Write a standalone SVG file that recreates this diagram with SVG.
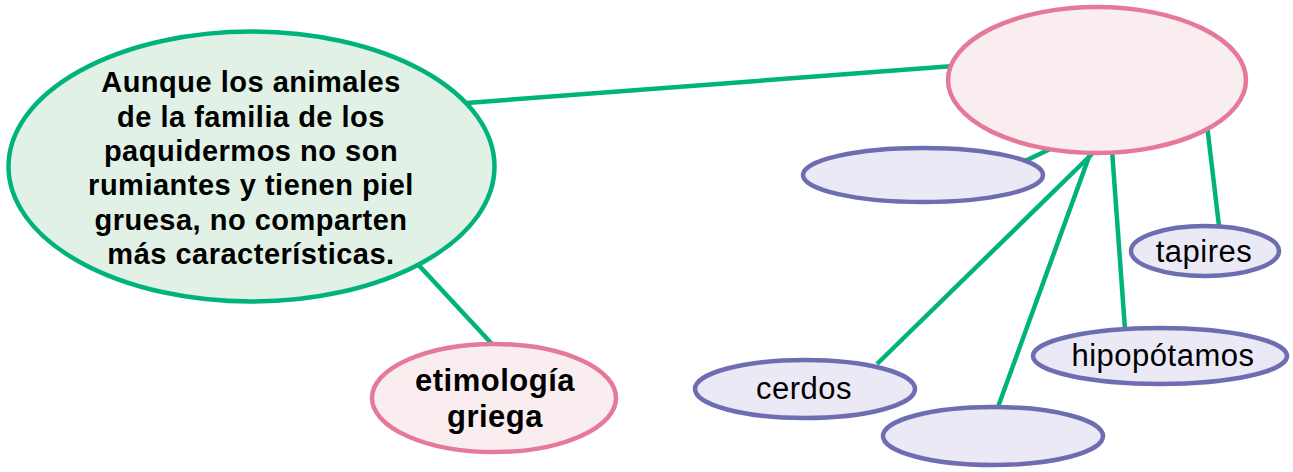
<svg xmlns="http://www.w3.org/2000/svg" width="1293" height="472" viewBox="0 0 1293 472">
<style>
.conn{stroke:#00b27b;stroke-width:4.5;fill:none;stroke-linecap:butt}
.green{fill:#e1f1e6;stroke:#00b27b;stroke-width:4.5}
.pink{fill:#f9edf0;stroke:#e5799a;stroke-width:4.5}
.purple{fill:#ebe9f5;stroke:#6f6db1;stroke-width:4.5}
.bold{font-family:"Liberation Sans",Arial,sans-serif;font-weight:bold;font-size:29px;letter-spacing:0.5px;fill:#000;text-anchor:middle}
.big{font-size:31px}
.reg{font-family:"Liberation Sans",Arial,sans-serif;font-size:31px;letter-spacing:0.5px;fill:#000;text-anchor:middle}
</style>
<rect width="1293" height="472" fill="#fff"/>
<g id="connectors">
<line class="conn" x1="440" y1="105" x2="980" y2="64"/>
<line class="conn" x1="400" y1="245" x2="492" y2="344"/>
<line class="conn" x1="1065" y1="142" x2="1006" y2="170"/>
<line class="conn" x1="1092" y1="154" x2="877" y2="364"/>
<line class="conn" x1="1090" y1="154" x2="998" y2="407"/>
<line class="conn" x1="1112" y1="150" x2="1125" y2="329"/>
<line class="conn" x1="1207" y1="125" x2="1219" y2="226"/>
</g>
<g id="n-green">
<ellipse class="green" cx="251.5" cy="166.5" rx="243" ry="135"/>
<text class="bold"><tspan x="251" y="92">Aunque los animales</tspan><tspan x="251" y="127">de la familia de los</tspan><tspan x="251" y="161">paquidermos no son</tspan><tspan x="251" y="195">rumiantes y tienen piel</tspan><tspan x="251" y="230">gruesa, no comparten</tspan><tspan x="251" y="264">más características.</tspan></text>
</g>
<g id="n-top">
<ellipse class="pink" cx="1097" cy="80" rx="149" ry="73"/>
</g>
<g id="n-etimologia">
<ellipse class="pink" cx="494" cy="398" rx="122" ry="54"/>
<text class="bold big"><tspan x="495" y="391">etimología</tspan><tspan x="495" y="427">griega</tspan></text>
</g>
<g id="n-empty1">
<ellipse class="purple" cx="923" cy="175" rx="120" ry="27"/>
</g>
<g id="n-tapires">
<ellipse class="purple" cx="1205" cy="251" rx="74" ry="25"/>
<text class="reg" x="1204" y="262">tapires</text>
</g>
<g id="n-hipopotamos">
<ellipse class="purple" cx="1160" cy="356" rx="127" ry="28"/>
<text class="reg" x="1163" y="366">hipopótamos</text>
</g>
<g id="n-cerdos">
<ellipse class="purple" cx="805" cy="389" rx="110" ry="29"/>
<text class="reg" x="804" y="399">cerdos</text>
</g>
<g id="n-empty2">
<ellipse class="purple" cx="993" cy="436" rx="110" ry="29"/>
</g>
</svg>
